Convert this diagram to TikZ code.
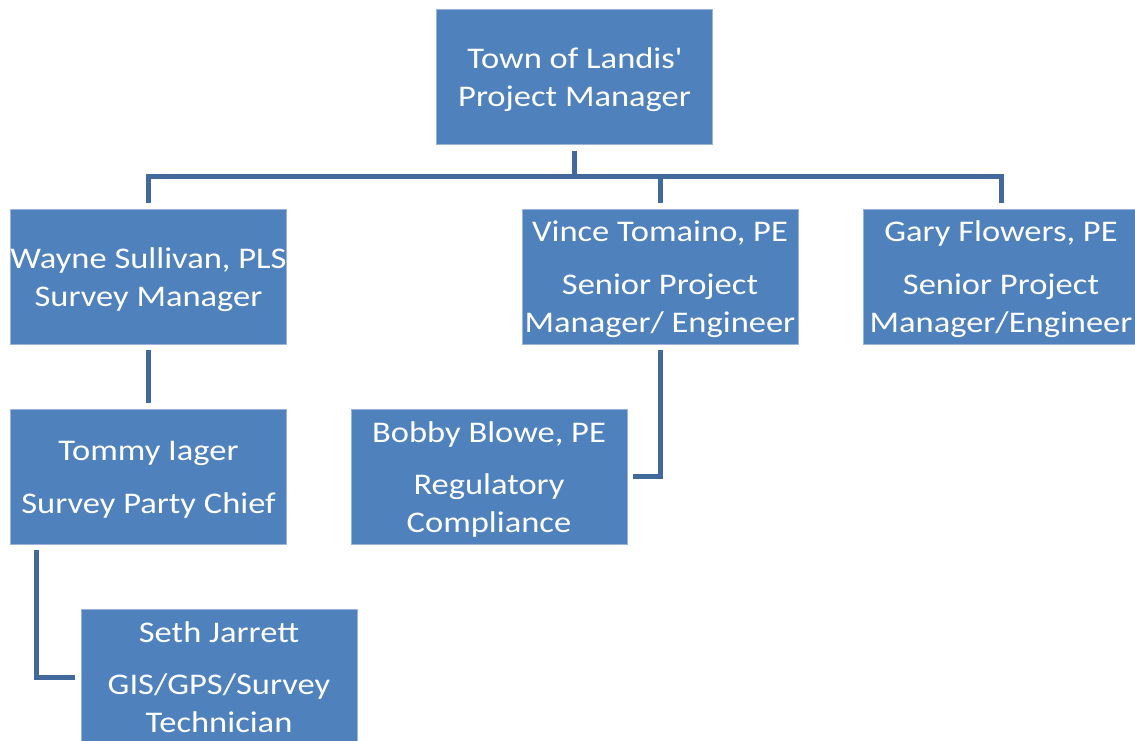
\documentclass[tikz,border=0pt]{standalone}
\usepackage{fontspec}
\setmainfont{Carlito}[FakeStretch=1.15]
\usetikzlibrary{calc}
\definecolor{boxfill}{HTML}{4F81BD}
\definecolor{boxline}{HTML}{9AB5D9}
\definecolor{connc}{HTML}{41699C}
\begin{document}
\begin{tikzpicture}[x=1pt,y=-1pt,
  box/.style={fill=boxfill,draw=boxline,line width=0.8pt,minimum width=276pt,minimum height=135pt,inner sep=0pt},
  txt/.style={text=white,align=center,font=\fontsize{30}{38.5}\selectfont,inner sep=0pt,yshift=-3pt},
  conn/.style={draw=connc,line width=5pt,line join=miter}]
\useasboundingbox (0,0) rectangle (1135,741);
\clip (0,0) rectangle (1135,741);
% boxes
\node[box] (top)   at (574.5,76.75) {};
\node[box] (wayne) at (148.5,276.5) {};
\node[box] (vince) at (660,276.5) {};
\node[box] (gary)  at (1001,276.5) {};
\node[box] (tommy) at (148.5,476.5) {};
\node[box] (bobby) at (489,476.5) {};
\node[box] (seth)  at (219,677) {};
% texts
\node[txt] (topt)   at (top)   {Town of Landis\textquotesingle\\Project Manager};
\node[txt] (waynet) at (wayne) {Wayne Sullivan, PLS\\Survey Manager};
\node[txt] (vincet) at (vince) {Vince Tomaino, PE\\[14pt]Senior Project\\Manager/ Engineer};
\node[txt] (garyt)  at (gary)  {Gary Flowers, PE\\[14pt]Senior Project\\Manager/Engineer};
\node[txt] (tommyt) at (tommy) {Tommy Iager\\[14.5pt]Survey Party Chief};
\node[txt] (bobbyt) at (bobby) {Bobby Blowe, PE\\[13.5pt]Regulatory\\Compliance};
\node[txt,yshift=2.5pt] (setht)  at (seth)  {Seth Jarrett\\[13pt]GIS/GPS/Survey\\Technician};
% connectors
\coordinate (busy) at (0,176.5);
\coordinate (leftx) at (36,0);
\draw[conn] ($(top.south)+(0,6)$) -- (top.south |- busy);
\draw[conn] ($(wayne.north)+(0,-6)$) -- (wayne.north |- busy) -- (gary.north |- busy) -- ($(gary.north)+(0,-6)$);
\draw[conn] ($(vince.north)+(0,-6)$) -- (vince.north |- busy);
\draw[conn] ($(wayne.south)+(0,6)$) -- ($(tommy.north)+(0,-6)$);
\draw[conn] ($(vince.south)+(0,6)$) |- ($(bobby.east)+(6,0)$);
\draw[conn] ($(tommy.south -| leftx)+(0,6)$) |- ($(seth.west)+(-6,0)$);
\end{tikzpicture}
\end{document}
